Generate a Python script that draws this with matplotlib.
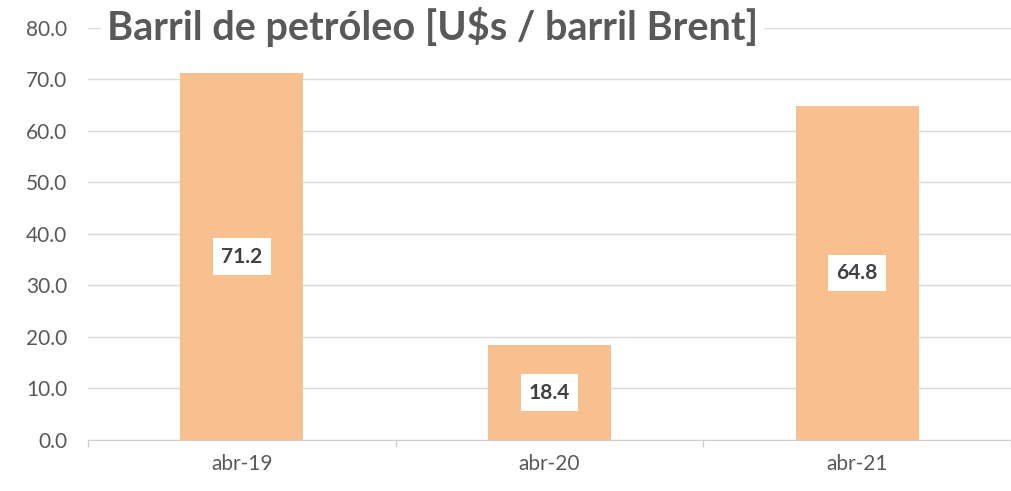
import matplotlib.pyplot as plt

categories = ["abr-19", "abr-20", "abr-21"]
values = [71.2, 18.4, 64.8]
y_ticks = [0, 10, 20, 30, 40, 50, 60, 70, 80]

plt.rcParams["font.family"] = ["Lato", "DejaVu Sans"]

fig = plt.figure(figsize=(10.11, 4.91), dpi=100)
ax = fig.add_axes([0.087, 0.104, 0.913, 0.839])

x = range(len(categories))
ax.bar(x, values, width=0.4, color="#F8BF8F", zorder=2)

for i, v in enumerate(values):
    ax.text(i, v / 2, f"{v:.1f}", ha="center", va="center", fontsize=15,
            fontweight="bold", color="#404040", zorder=3,
            bbox=dict(boxstyle="square,pad=0.4", fc="white", ec="none"))

ax.set_xlim(-0.5, len(categories) - 0.5)
ax.set_ylim(0, 80)
ax.set_yticks(y_ticks)
ax.set_yticklabels([f"{t:.1f}" for t in y_ticks])
ax.set_xticks(list(x))
ax.set_xticklabels(categories)

# category boundary ticks on the x axis
ax.set_xticks([-0.5, 0.5, 1.5, 2.5], minor=True)
ax.tick_params(axis="x", which="major", length=0, pad=10, labelsize=15, colors="#595959")
ax.tick_params(axis="x", which="minor", length=5, color="#d0d0d0", width=1)
ax.tick_params(axis="y", length=0, pad=15, labelsize=15, labelcolor="#595959")

ax.grid(axis="y", color="#d9d9d9", linewidth=1, zorder=0)
for side in ["top", "right", "left"]:
    ax.spines[side].set_visible(False)
ax.spines["bottom"].set_color("#d0d0d0")

fig.text(0.106, 0.945, "Barril de petróleo [U$s / barril Brent]", ha="left", va="center",
         fontsize=28.5, fontweight="bold", color="#595959", zorder=5,
         bbox=dict(boxstyle="square,pad=0.15", fc="white", ec="none"))

fig.savefig("out.png", dpi=100)
